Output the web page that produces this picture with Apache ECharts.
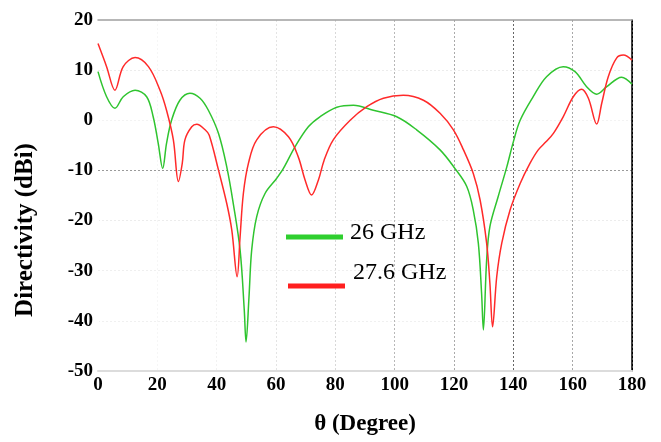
<!DOCTYPE html>
<html>
<head>
<meta charset="utf-8">
<script src="https://cdn.jsdelivr.net/npm/echarts@6/dist/echarts.min.js"></script>
<style>html,body{margin:0;padding:0;background:#fff;}#c{width:661px;height:442px;}</style>
</head>
<body>
<div id="c"></div>
<script>
// Data
const thetaGreen = [0,2.9,5.7,8.5,12.5,16.4,18.6,20.3,21.8,23.1,24.8,27.6,31,34.4,37.2,40.6,43.4,45.6,47.9,49.3,49.9,50.9,51.8,53.5,56.3,60.2,62.5,66.4,70.9,74.8,80.5,86.1,92.8,100.7,107.4,115.3,120.3,124.3,126.5,128.2,129.3,129.9,131,132.1,134.9,137.8,140,142.3,146.7,151.2,156.8,160.8,164.7,168.1,171.5,176.5,180];
const dirGreen = [9.7,4.7,2.4,4.7,6.0,4.7,0.7,-4.6,-9.6,-4.6,0.0,4.0,5.4,4.4,2.0,-2.6,-9.3,-16.6,-25.9,-37.8,-44.2,-35.2,-25.9,-19.2,-14.6,-11.6,-9.6,-5.3,-1.3,0.7,2.6,3.0,2.0,0.7,-1.9,-5.9,-9.6,-13.2,-17.9,-24.5,-34.5,-41.8,-27.9,-21.2,-15.2,-9.3,-4.3,0.0,4.7,8.7,10.7,9.7,6.7,5.2,6.7,8.6,7.2];
const thetaRed = [0,2.9,5.7,8.5,12.5,17,20.9,23.1,25.4,27.1,28.4,29.3,31.6,33.3,36.1,37.5,40.6,43.4,45.1,46.9,47.9,49,50.7,53.5,59.1,64.2,67.5,69.8,72,74.3,76.2,79.3,85,90.6,96.2,102.9,109.7,115.3,119.8,123.2,126.5,128.8,131,132.1,133,134.4,136.1,138.9,142.3,145.6,148.4,151,153.5,156.8,160.2,163,165.3,168.1,169.8,172,174.8,177.1,180];
const dirRed = [15.3,10.7,6.0,10.7,12.5,10.7,6.0,2.0,-3.9,-12.2,-8.6,-3.9,-1.3,-0.8,-1.9,-3.0,-9.9,-16.6,-21.9,-31.2,-23.2,-14.6,-8.6,-3.9,-1.3,-3.3,-7.3,-11.9,-14.9,-11.9,-8.0,-3.9,0.0,2.7,4.4,5.0,4.0,1.4,-1.9,-5.9,-10.6,-15.9,-24.5,-32.5,-41.2,-31.2,-24.5,-17.9,-12.6,-8.6,-5.9,-4.3,-2.6,0.7,4.7,6.2,4.4,-0.75,3.4,8.7,12.4,13.0,12.0];
const seriesNames = ['26 GHz', '27.6 GHz'];
const xTicks = [0,20,40,60,80,100,120,140,160,180];
const yTicks = [-50,-40,-30,-20,-10,0,10,20];

const pairs = (xs, ys) => xs.map((x, i) => [x, ys[i]]);
const serif = 'Liberation Serif';

const chart = echarts.init(document.getElementById('c'), null, {renderer: 'canvas'});
chart.setOption({
  animation: false,
  backgroundColor: '#fff',
  grid: {left: 98, right: 29, top: 20, bottom: 71, containLabel: false},
  xAxis: [{
    type: 'value', min: xTicks[0], max: xTicks[xTicks.length - 1], interval: 20,
    name: 'θ (Degree)', nameLocation: 'middle', nameGap: 42,
    nameTextStyle: {fontFamily: serif, fontWeight: 'bold', fontSize: 23, color: '#000'},
    axisLine: {show: true, onZero: false, lineStyle: {color: '#dcdcdc', width: 2}},
    axisTick: {show: false},
    axisLabel: {fontFamily: serif, fontWeight: 'bold', fontSize: 19, color: '#000', margin: 5},
    splitLine: {show: true, lineStyle: {type: [2, 2], width: 1,
      color: ['#ffffff','#f6f6f6','#f2f2f2','#e4e4e4','#d8d8d8','#b8b8b8','#aaaaaa','#666666','#a8a8a8','#000000']}}
  }, {
    type: 'value', position: 'top', min: 0, max: 180, interval: 20,
    axisLine: {show: true, onZero: false, lineStyle: {color: '#a0a0a0', width: 1.5}},
    axisTick: {show: false}, axisLabel: {show: false}, splitLine: {show: false}
  }],
  yAxis: [{
    type: 'value', min: yTicks[0], max: yTicks[yTicks.length - 1], interval: 10,
    axisLine: {show: false},
    axisTick: {show: false},
    axisLabel: {fontFamily: serif, fontWeight: 'bold', fontSize: 19, color: '#000', margin: 5},
    splitLine: {show: true, lineStyle: {type: [2, 2], width: 1,
      color: ['#ffffff','#f0f0f0','#efefef','#ececec','#9a9a9a','#f3f3f3','#ececec','#ffffff']}}
  }, {
    type: 'value', position: 'right', min: -50, max: 20, interval: 10,
    axisLine: {show: true, onZero: false, lineStyle: {color: '#000', width: 1.5}},
    axisTick: {show: false}, axisLabel: {show: false}, splitLine: {show: false}
  }],
  legend: [{
    data: [seriesNames[0]], orient: 'vertical', left: 281, top: 216,
    icon: 'rect', itemWidth: 57, itemHeight: 5,
    formatter: '{t|{name}}',
    textStyle: {rich: {t: {fontFamily: serif, fontSize: 24, color: '#000', padding: [0, 0, 8, 2]}}}
  }, {
    data: [seriesNames[1]], orient: 'vertical', left: 283, top: 256,
    icon: 'rect', itemWidth: 57, itemHeight: 5,
    formatter: '{t|{name}}',
    textStyle: {rich: {t: {fontFamily: serif, fontSize: 24, color: '#000', padding: [0, 0, 26, 3]}}}
  }],
  graphic: [{
    type: 'text', x: 26, y: 230, rotation: Math.PI / 2,
    style: {text: 'Directivity (dBi)', fontFamily: serif, fontWeight: 'bold', fontSize: 25,
      fill: '#000', align: 'center', verticalAlign: 'middle'}
  }],
  series: [{
    name: seriesNames[0], type: 'line', data: pairs(thetaGreen, dirGreen),
    showSymbol: false, symbol: 'none', smooth: 0.35,
    color: '#2fcf2f', lineStyle: {width: 1.5, color: '#2fc42f'}
  }, {
    name: seriesNames[1], type: 'line', data: pairs(thetaRed, dirRed),
    showSymbol: false, symbol: 'none', smooth: 0.35,
    color: '#ff1f1f', lineStyle: {width: 1.5, color: '#ff2a2a'}
  }]
});
</script>
</body>
</html>
